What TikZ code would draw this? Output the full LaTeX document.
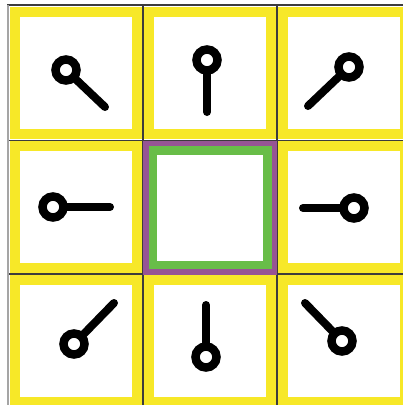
\documentclass[tikz,border=0pt]{standalone}
\usepackage{xcolor}
\usepackage{tikz}
\usetikzlibrary{calc}
\definecolor{FrameYellow}{RGB}{247, 232, 40}
\definecolor{GridGray}{RGB}{60, 60, 60}
\definecolor{EdgeGray}{RGB}{165, 165, 165}
\definecolor{MidGreen}{RGB}{104, 189, 72}
\definecolor{MidPurple}{RGB}{150, 84, 148}

\begin{document}
\begin{tikzpicture}[x=1pt, y=-1pt,
    cell/.style={
      rectangle, draw=FrameYellow, fill=white,
      line width=10pt, minimum size=122pt,
      inner sep=0pt, outer sep=0pt
    },
    outerframe/.style={
      rectangle, draw=MidPurple, fill=white,
      line width=5.5pt, minimum size=128.5pt, inner sep=0pt
    },
    innerframe/.style={
      rectangle, draw=MidGreen,
      line width=8.5pt, minimum size=114.5pt, inner sep=0pt
    },
    gridline/.style={line width=1.4pt, color=GridGray},
    stem/.style={line width=8pt, line cap=round, color=black},
    ring/.style={line width=8.5pt, draw=black, fill=white}
  ]
    \useasboundingbox (0,0) rectangle (403,405);

    % grid
    \draw[gridline] (7,5) -- (403,5);
    \draw[gridline, color=EdgeGray] (8,5) -- (8,405);
    \foreach \x in {143,277}
      \draw[gridline] (\x,5) -- (\x,405);
    \foreach \y in {140.5,274}
      \draw[gridline] (9,\y) -- (403,\y);

    % cells
    \node[cell] (tl) at (76,73)   {};
    \node[cell] (tm) at (210,73)  {};
    \node[cell] (tr) at (344,73)  {};
    \node[cell] (ml) at (76,207)  {};
    \node[cell] (mr) at (344,207) {};
    \node[cell] (bl) at (76,341)  {};
    \node[cell] (bm) at (210,341) {};
    \node[cell] (br) at (344,341) {};
    \node[outerframe] (mid)   at (210,207.5) {};
    \node[innerframe] (midin) at (210,207.5) {};

    % pins
    \foreach \c/\ex/\ey/\cx/\cy in {tl/29/34/-10/-3, tm/-3/39/-3/-13,
        tr/-36/33/5/-6, ml/34/0/-23/0, mr/-41/1/10/1,
        bl/38/-38/-2/3, bm/-4/-36/-4/16, br/-39/-38/-2/0}{
      \draw[stem] ($(\c)+(\ex,\ey)$) -- ($(\c)+(\cx,\cy)$);
      \draw[ring] ($(\c)+(\cx,\cy)$) circle[radius=10.5pt];
    }
\end{tikzpicture}
\end{document}
